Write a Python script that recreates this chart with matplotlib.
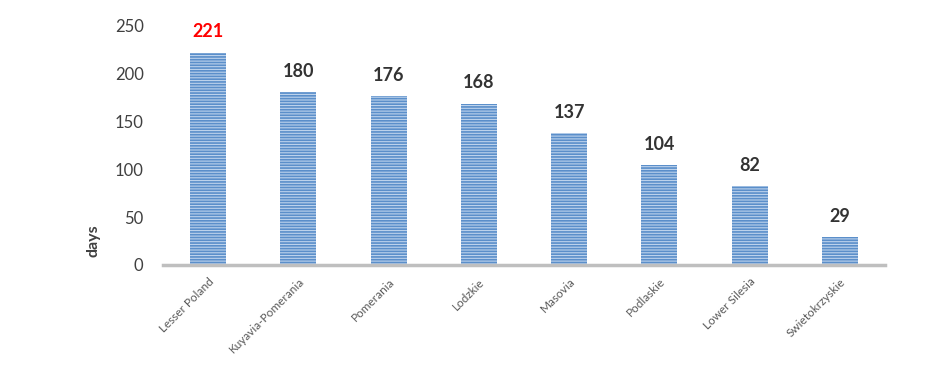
import numpy as np
import matplotlib
matplotlib.use("Agg")
import matplotlib.pyplot as plt

regions = ["Lesser Poland", "Kuyavia-Pomerania", "Pomerania", "Lodzkie",
           "Masovia", "Podlaskie", "Lower Silesia", "Swietokrzyskie"]
days = [221, 180, 176, 168, 137, 104, 82, 29]
yticks = [0, 50, 100, 150, 200, 250]

plt.rcParams["font.family"] = ["Lato", "DejaVu Sans"]
plt.rcParams["hatch.linewidth"] = 1.2

fig = plt.figure(figsize=(9.43, 3.68), dpi=100)
ax = fig.add_axes([0.1729, 0.2799, 0.7656, 0.6521])

x = np.arange(len(regions))
ax.bar(x, days, width=0.4, color="#bcd2ec", edgecolor="#5b8fca",
       linewidth=0, hatch="------")

for i, v in enumerate(days):
    col = "#ff0000" if i == 0 else "#333333"
    ax.annotate(f"{v}", (x[i], v), xytext=(0, 9), textcoords="offset points",
                ha="center", va="bottom", fontsize=13, fontweight="bold",
                color=col, annotation_clip=False)

ax.set_xlim(-0.5, len(regions) - 0.5)
ax.set_ylim(0, 250)
ax.set_yticks(yticks)
ax.tick_params(axis="y", length=0, pad=14, labelsize=12, labelcolor="#404040")
ax.set_xticks(x)
ax.set_xticklabels(regions, rotation=45, ha="right", rotation_mode="anchor",
                   fontsize=8.5, color="#595959")
ax.tick_params(axis="x", length=0, pad=8)

for s in ["left", "right", "top"]:
    ax.spines[s].set_visible(False)
ax.spines["bottom"].set_color("#bfbfbf")
ax.spines["bottom"].set_linewidth(2.5)

ax.set_ylabel("days", fontsize=11.5, fontweight="bold", color="#404040")
ax.yaxis.set_label_coords(-0.087, 0.1)

fig.savefig("out.png", dpi=100)
